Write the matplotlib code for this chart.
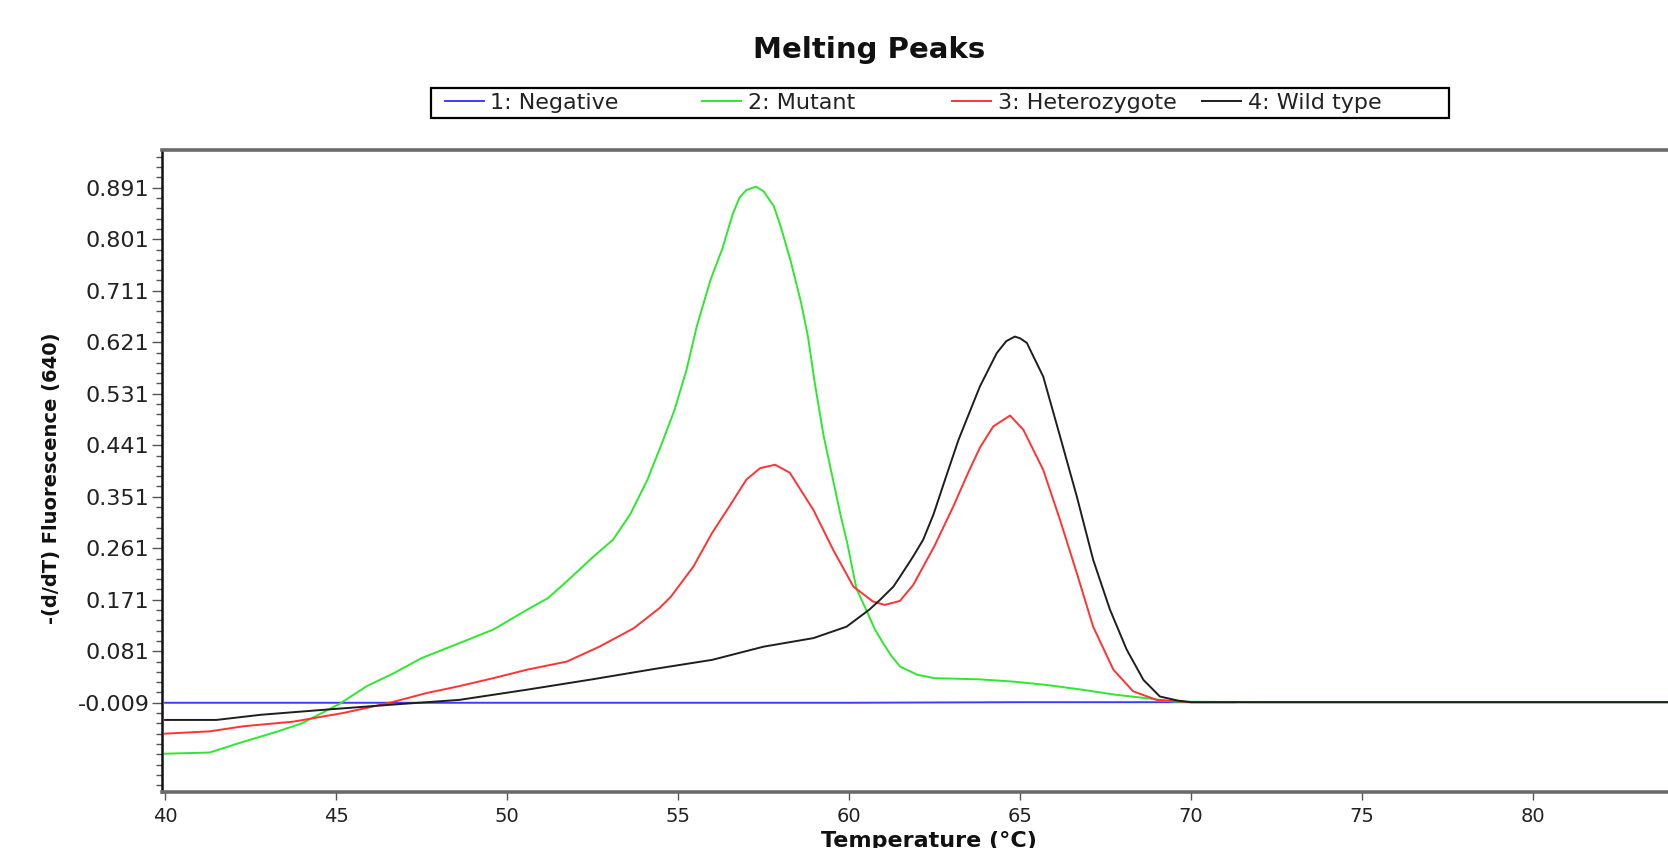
import matplotlib.pyplot as plt
from matplotlib.patches import Rectangle
from matplotlib.ticker import MultipleLocator

# Series labels and colours (legend order)
series_names = ["1: Negative", "2: Mutant", "3: Heterozygote", "4: Wild type"]
series_colors = ["#3c3cff", "#2ee82e", "#ff3333", "#1e1e1e"]

# 1: Negative
neg_temp = [40, 43, 45, 50, 55, 60, 65, 70, 71.3]
neg_vals = [-0.009, -0.009, -0.009, -0.009, -0.009, -0.009, -0.008, -0.008, -0.008]

# 2: Mutant
mut_temp = [40, 41.3, 42.3, 43.3, 44.0, 45.1, 45.9, 46.7, 47.5, 48.6, 49.6,
            50.6, 51.2, 51.8, 52.5, 53.1, 53.6, 54.1, 54.5, 54.9, 55.25,
            55.55, 55.95, 56.3, 56.6, 56.8, 57.0, 57.28, 57.5, 57.8, 58.0,
            58.3, 58.6, 58.8, 59.0, 59.25, 59.5, 59.75, 59.95, 60.22, 60.5,
            60.75, 61.0, 61.25, 61.5, 62.0, 62.5, 63.8, 64.8, 65.8, 66.8,
            67.8, 68.7, 69.5, 72, 84]
mut_vals = [-0.098, -0.096, -0.077, -0.059, -0.045, -0.011, 0.020, 0.043,
            0.069, 0.095, 0.119, 0.154, 0.174, 0.206, 0.245, 0.276, 0.320,
            0.380, 0.440, 0.503, 0.573, 0.649, 0.730, 0.785, 0.845, 0.874,
            0.887, 0.893, 0.885, 0.859, 0.824, 0.762, 0.690, 0.631, 0.550,
            0.460, 0.390, 0.320, 0.270, 0.190, 0.154, 0.120, 0.095, 0.072,
            0.054, 0.040, 0.034, 0.032, 0.028, 0.022, 0.014, 0.005, -0.001,
            -0.007, -0.008, -0.008]

# 3: Heterozygote
het_temp = [40, 41.3, 42.3, 43.75, 45.2, 45.9, 46.7, 47.65, 48.6, 49.6, 50.6,
            51.75, 52.7, 53.7, 54.45, 54.8, 55.45, 56.0, 56.5, 57.0, 57.4,
            57.84, 58.27, 58.96, 59.54, 60.13, 60.7, 61.05, 61.49, 61.88, 62.5,
            63.05, 63.5, 63.83, 64.22, 64.71, 65.1, 65.68, 66.17, 66.66, 67.14,
            67.73, 68.31, 69.0, 70, 84]
het_vals = [-0.063, -0.059, -0.050, -0.042, -0.027, -0.018, -0.007, 0.008,
            0.020, 0.034, 0.049, 0.063, 0.089, 0.121, 0.156, 0.177, 0.229,
            0.288, 0.334, 0.381, 0.401, 0.407, 0.393, 0.328, 0.258, 0.194,
            0.168, 0.162, 0.169, 0.197, 0.265, 0.334, 0.395, 0.437, 0.474,
            0.493, 0.468, 0.398, 0.311, 0.218, 0.124, 0.049, 0.011, -0.004,
            -0.008, -0.008]

# 4: Wild type
wt_temp = [40, 41.5, 42.8, 44.7, 46.7, 48.6, 50.6, 52.5, 54.3, 56.0, 57.5,
           58.96, 59.93, 60.6, 60.91, 61.3, 61.5, 61.88, 62.17, 62.47, 62.86,
           63.2, 63.44, 63.83, 64.32, 64.6, 64.85, 65.0, 65.2, 65.68, 66.17,
           66.66, 67.14, 67.63, 68.12, 68.61, 69.09, 69.6, 70, 84]
wt_vals = [-0.039, -0.039, -0.030, -0.021, -0.012, -0.004, 0.014, 0.032,
           0.050, 0.066, 0.089, 0.104, 0.124, 0.154, 0.171, 0.194, 0.212,
           0.247, 0.276, 0.320, 0.390, 0.450, 0.486, 0.544, 0.602, 0.623,
           0.631, 0.628, 0.620, 0.561, 0.457, 0.352, 0.241, 0.154, 0.084,
           0.031, 0.002, -0.005, -0.008, -0.008]

ytick_values = [-0.009, 0.081, 0.171, 0.261, 0.351, 0.441, 0.531, 0.621,
                0.711, 0.801, 0.891]
xtick_values = [40, 45, 50, 55, 60, 65, 70, 75, 80]

fig = plt.figure(figsize=(16.68, 8.48), dpi=100)
ax = fig.add_axes([0.0971, 0.066, 0.9029, 0.7571])

lines = []
for temps, vals, color in zip([neg_temp, mut_temp, het_temp, wt_temp],
                              [neg_vals, mut_vals, het_vals, wt_vals],
                              series_colors):
    ln, = ax.plot(temps, vals, color=color, lw=1.4)
    lines.append(ln)

ax.set_xlim(39.91, 83.95)
ax.set_ylim(-0.165, 0.957)

ax.set_yticks(ytick_values, labels=[f"{v:.3f}" for v in ytick_values])
ax.yaxis.set_minor_locator(MultipleLocator(0.018, offset=-0.009))
ax.set_xticks(xtick_values, labels=[str(v) for v in xtick_values])

ax.tick_params(axis="y", which="major", length=7, width=1, color="#555555",
               labelsize=16, labelcolor="#222222", pad=2)
ax.tick_params(axis="y", which="minor", length=4, width=1, color="#555555")
ax.tick_params(axis="x", which="major", length=6, width=1, color="#555555",
               labelsize=14, labelcolor="#222222", pad=5)

ax.spines["right"].set_visible(False)
ax.spines["left"].set_color("#111111")
ax.spines["left"].set_linewidth(1.8)
for side in ["top", "bottom"]:
    ax.spines[side].set_color("#6a6a6a")
    ax.spines[side].set_linewidth(2.6)

# title and axis labels
fig.text(0.521, 0.941, "Melting Peaks", ha="center", va="center",
         fontsize=21, fontweight="bold", color="#111111")
fig.text(0.0306, 0.4363, "-(d/dT) Fluorescence (640)", rotation=90,
         ha="center", va="center", fontsize=14, fontweight="bold", color="#111111")
fig.text(0.557, 0.020, "Temperature (°C)", ha="center", va="top",
         fontsize=16, fontweight="bold", color="#111111")

# legend: one entry per column, inside a single box
legend_x = [444.7 / 1668, 702.1 / 1668, 952.1 / 1668, 1202.1 / 1668]
for ln, name, lx in zip(lines, series_names, legend_x):
    leg = fig.legend(handles=[ln], labels=[name], loc="center left",
                     bbox_to_anchor=(lx, 0.8785), frameon=False, fontsize=16,
                     borderpad=0, borderaxespad=0, handlelength=1.76,
                     handletextpad=0.3)
    for t in leg.get_texts():
        t.set_color("#222222")

box = Rectangle((431 / 1668, 1 - 118 / 848), 1018 / 1668, 30 / 848,
                transform=fig.transFigure, fill=False, edgecolor="black", lw=1.6)
fig.add_artist(box)

fig.savefig("out.png", dpi=100)
